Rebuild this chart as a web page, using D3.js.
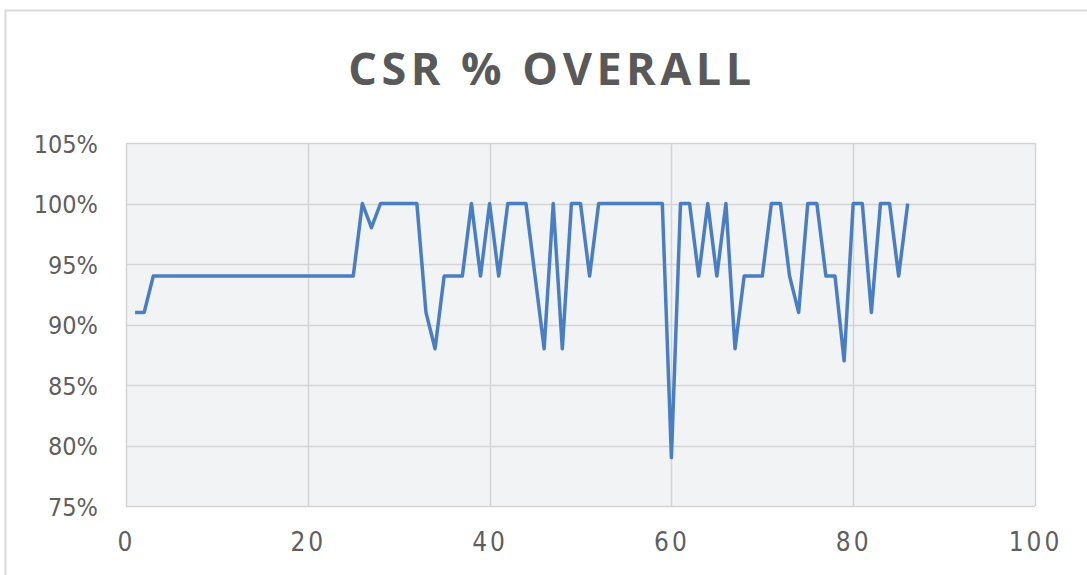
<!DOCTYPE html>
<html>
<head>
<meta charset="utf-8">
<script src="https://cdn.jsdelivr.net/npm/d3@7"></script>
<style>
  body { margin: 0; background: #ffffff; }
  text { font-family: "Open Sans", sans-serif; }
</style>
</head>
<body>
<svg id="line-chart" width="1087" height="575"></svg>
<script>
// chart data
let title = "CSR % OVERALL";
let days = [
  1, 2, 3, 4, 5, 6, 7, 8, 9, 10, 11, 12, 13, 14, 15, 16, 17, 18, 19, 20,
  21, 22, 23, 24, 25, 26, 27, 28, 29, 30, 31, 32, 33, 34, 35, 36, 37, 38, 39, 40,
  41, 42, 43, 44, 45, 46, 47, 48, 49, 50, 51, 52, 53, 54, 55, 56, 57, 58, 59, 60,
  61, 62, 63, 64, 65, 66, 67, 68, 69, 70, 71, 72, 73, 74, 75, 76, 77, 78, 79, 80,
  81, 82, 83, 84, 85, 86
];
let csr = [
  0.91, 0.91, 0.94, 0.94, 0.94, 0.94, 0.94, 0.94, 0.94, 0.94, 0.94, 0.94, 0.94, 0.94, 0.94, 0.94, 0.94, 0.94, 0.94, 0.94,
  0.94, 0.94, 0.94, 0.94, 0.94, 1.00, 0.98, 1.00, 1.00, 1.00, 1.00, 1.00, 0.91, 0.88, 0.94, 0.94, 0.94, 1.00, 0.94, 1.00,
  0.94, 1.00, 1.00, 1.00, 0.94, 0.88, 1.00, 0.88, 1.00, 1.00, 0.94, 1.00, 1.00, 1.00, 1.00, 1.00, 1.00, 1.00, 1.00, 0.79,
  1.00, 1.00, 0.94, 1.00, 0.94, 1.00, 0.88, 0.94, 0.94, 0.94, 1.00, 1.00, 0.94, 0.91, 1.00, 1.00, 0.94, 0.94, 0.87, 1.00,
  1.00, 0.91, 1.00, 1.00, 0.94, 1.00
];
let xTicks = [0, 20, 40, 60, 80, 100];
let yTicks = [0.75, 0.80, 0.85, 0.90, 0.95, 1.00, 1.05];

let lineData = days.map((d, i) => ({ day: d, value: csr[i] }));

let svg = d3.select("#line-chart");

// outer chart frame
svg.append("rect")
  .attr("x", 5.5)
  .attr("y", 10.5)
  .attr("width", 1100)
  .attr("height", 600)
  .attr("fill", "#ffffff")
  .attr("stroke", "#d9d9d9")
  .attr("stroke-width", 2);

let margin = { top: 143, right: 52, bottom: 69, left: 126 };
let width = +svg.attr("width") - margin.left - margin.right;
let height = +svg.attr("height") - margin.top - margin.bottom;

let g = svg.append("g")
  .attr("transform", "translate(" + margin.left + "," + margin.top + ")");

let x = d3.scaleLinear().domain([0, 100]).range([0, width]);
let y = d3.scaleLinear().domain([0.75, 1.05]).range([height, 0]);

// plot background
g.append("rect")
  .attr("width", width)
  .attr("height", height)
  .attr("fill", "#f2f3f5");

// gridlines
g.append("g")
  .selectAll("line")
  .data(yTicks)
  .enter()
  .append("line")
  .attr("x1", 0)
  .attr("x2", width)
  .attr("y1", (d) => Math.round(y(d)) + 0.5)
  .attr("y2", (d) => Math.round(y(d)) + 0.5)
  .attr("stroke", "#d4d4d4")
  .attr("stroke-width", 1.5);

g.append("g")
  .selectAll("line")
  .data(xTicks)
  .enter()
  .append("line")
  .attr("x1", (d) => Math.round(x(d)) + 0.5)
  .attr("x2", (d) => Math.round(x(d)) + 0.5)
  .attr("y1", 0)
  .attr("y2", height)
  .attr("stroke", "#d4d4d4")
  .attr("stroke-width", 1.5);

// axes (labels only)
let yAxis = g.append("g")
  .call(d3.axisLeft(y).tickValues(yTicks).tickFormat(d3.format(".0%")).tickSize(0).tickPadding(28));
yAxis.select(".domain").remove();
yAxis.selectAll("text")
  .attr("fill", "#5f5f5f")
  .style("font-family", "'DejaVu Sans Condensed', 'DejaVu Sans', sans-serif")
  .style("font-size", "25px")
  .attr("dy", "0.36em");

let xAxis = g.append("g")
  .attr("transform", "translate(0," + height + ")")
  .call(d3.axisBottom(x).tickValues(xTicks).tickSize(0).tickPadding(27));
xAxis.select(".domain").remove();
xAxis.selectAll("text")
  .attr("fill", "#5f5f5f")
  .style("font-family", "'DejaVu Sans Condensed', 'DejaVu Sans', sans-serif")
  .style("font-size", "26px")
  .style("letter-spacing", "3px");

// the line
let line = d3.line()
  .x((d) => x(d.day))
  .y((d) => y(d.value));

g.append("path")
  .datum(lineData)
  .attr("fill", "none")
  .attr("stroke", "#4a7ec3")
  .attr("stroke-width", 3.5)
  .attr("stroke-linejoin", "round")
  .attr("d", line);

// title
svg.append("text")
  .attr("x", 552)
  .attr("y", 85)
  .attr("text-anchor", "middle")
  .attr("fill", "#595959")
  .style("font-size", "45px")
  .style("font-weight", "bold")
  .style("letter-spacing", "4.5px")
  .text(title);
</script>
</body>
</html>
